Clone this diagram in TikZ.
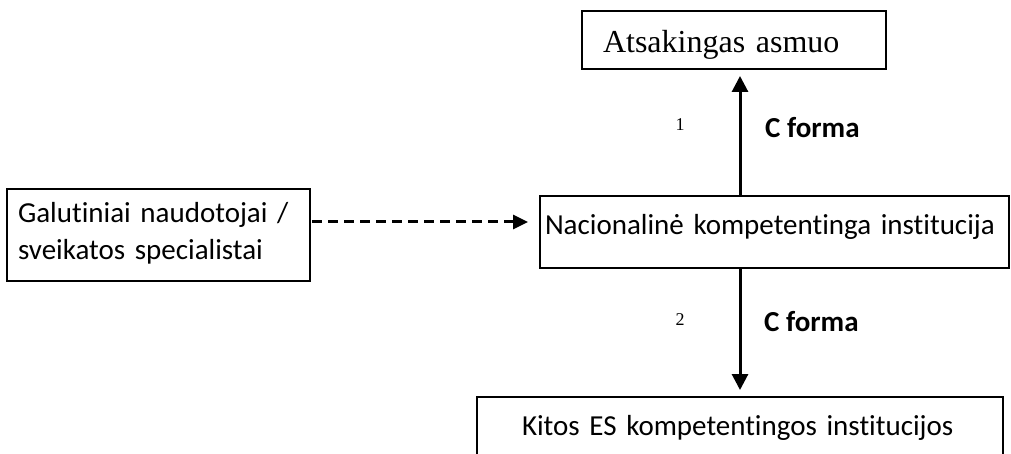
\documentclass[tikz,border=0pt]{standalone}
\usepackage{fontspec}
\setmainfont{Liberation Serif}
\newfontfamily\carlfont[Ligatures=NoCommon]{Carlito}
\usetikzlibrary{arrows.meta}
\tikzset{
  boxnode/.style={draw, line width=1.6pt, anchor=north west, align=left, inner ysep=6pt, outer sep=0pt},
  sansbig/.style={font=\carlfont\fontsize{29}{36}\selectfont},
  vertarrow/.style={line width=3pt, -{Triangle[length=16pt,width=16pt]}},
  dasharrow/.style={line width=3pt, dash pattern=on 10pt off 6pt, -{Triangle[length=15pt,width=14pt]}},
  numlabel/.style={font=\fontsize{18}{20}\selectfont, inner sep=0pt},
  formlabel/.style={font=\carlfont\bfseries\fontsize{29}{34}\selectfont, anchor=base west, inner sep=0pt}
}
\begin{document}
\begin{tikzpicture}[x=1pt,y=-1pt]
\useasboundingbox (0,0) rectangle (1011,454);
\node[boxnode, font=\fontsize{32}{36}\selectfont, inner xsep=21pt, text width=262pt, text height=36pt, text depth=10pt] (top) at (582,11) {Atsakingas asmuo};
\node[boxnode, sansbig, inner xsep=5pt, text width=459pt, text height=33pt, text depth=27pt] (mid) at (540,196) {Nacionalinė kompetentinga institucija};
\node[boxnode, sansbig, inner xsep=11pt, text width=281pt, text height=28pt, text depth=52pt] (left) at (7,189) {Galutiniai naudotojai /\\sveikatos specialistai};
\node[boxnode, sansbig, inner xsep=45pt, text width=436pt, text height=32pt, text depth=29pt] (bot) at (477,397) {Kitos ES kompetentingos institucijos};
\coordinate (ax) at (740,0);
\coordinate (dy) at (0,222);
\draw[vertarrow, shorten >=7pt] (mid.north -| ax) -- (top.south -| ax);
\draw[vertarrow, shorten >=7pt] (mid.south -| ax) -- (bot.north -| ax);
\draw[dasharrow, shorten <=2pt, shorten >=12pt] (left.east |- dy) -- (mid.west |- dy);
\node[numlabel] (n1) at (680,125) {1};
\node[formlabel] (f1) at (765,138) {C forma};
\node[numlabel] (n2) at (680,320) {2};
\node[formlabel] (f2) at (764,331) {C forma};
\end{tikzpicture}
\end{document}
